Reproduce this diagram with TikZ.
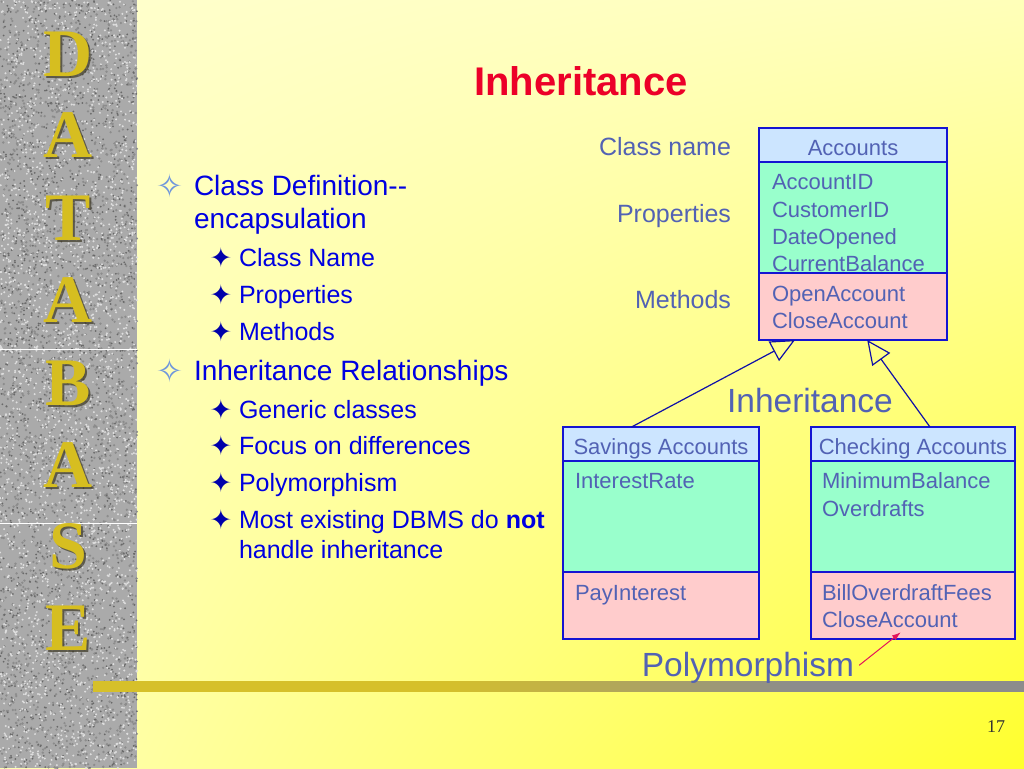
\documentclass[tikz,border=0pt]{standalone}
\usepackage{fontspec}
\usepackage{tikz}
\usetikzlibrary{positioning,arrows.meta,shadings}
\setmainfont{Liberation Sans}
\newfontfamily\letterfont{Liberation Serif}
\newfontfamily\starfont{DejaVu Sans}
\definecolor{creamtop}{RGB}{255,255,206}
\definecolor{creamright}{RGB}{255,255,185}
\definecolor{creamleft}{RGB}{255,255,180}
\definecolor{yellowlow}{RGB}{255,255,45}
\definecolor{granite}{RGB}{170,170,170}
\definecolor{granitedark}{RGB}{105,105,105}
\definecolor{granitemid}{RGB}{140,140,140}
\definecolor{granitelight}{RGB}{222,222,222}
\definecolor{goldletter}{RGB}{214,190,32}
\definecolor{goldshadow}{RGB}{60,55,35}
\definecolor{bargold}{RGB}{214,192,42}
\definecolor{bargray}{RGB}{140,140,140}
\definecolor{titlered}{RGB}{236,0,40}
\definecolor{bultext}{RGB}{0,0,225}
\definecolor{hollowstar}{RGB}{110,150,220}
\definecolor{fullstar}{RGB}{0,0,170}
\definecolor{diagtext}{RGB}{82,98,180}
\definecolor{boxline}{RGB}{20,20,210}
\definecolor{hdrblue}{RGB}{204,229,255}
\definecolor{propgreen}{RGB}{153,255,204}
\definecolor{methpink}{RGB}{255,204,204}
\definecolor{polyred}{RGB}{228,20,90}
\newcommand\lvlone{\fontsize{28}{34}\selectfont}
\newcommand\lvltwo{\fontsize{25}{30}\selectfont}
\newcommand\clsfont{\fontsize{22}{27}\selectfont}
\newcommand\sidefont{\fontsize{25}{30}\selectfont}
\newcommand\bigfont{\fontsize{33.5}{40}\selectfont}

\begin{document}
\begin{tikzpicture}[x=1pt,y=-1pt,
  every node/.style={inner sep=0pt,outer sep=0pt},
  letter/.style={anchor=base,text=goldletter,font=\fontsize{68}{70}\selectfont\letterfont\bfseries},
  letshadow/.style={letter,text=goldshadow,opacity=0.7},
  lvone/.style={anchor=base west,text=bultext,font=\lvlone},
  lvtwo/.style={anchor=base west,text=bultext,font=\lvltwo},
  dotone/.style={text=hollowstar,font=\starfont\fontsize{32}{32}\selectfont},
  dottwo/.style={text=fullstar,font=\starfont\fontsize{27}{27}\selectfont},
  sidelabel/.style={anchor=base east,text=diagtext,font=\sidefont},
  chead/.style={draw=boxline,line width=1.5pt,fill=hdrblue,anchor=north west,
    minimum height=34pt,text height=20pt,text depth=0pt,text=diagtext,font=\clsfont},
  cprop/.style={draw=boxline,line width=1.5pt,fill=propgreen,minimum height=111pt},
  cmeth/.style={draw=boxline,line width=1.5pt,fill=methpink,minimum height=67pt},
  member/.style={anchor=base west,text=diagtext,font=\clsfont},
  inherit/.style={draw=boxline!80!black,line width=1.2pt,-{Triangle[open,length=24pt,width=22pt]}},
  pointer/.style={draw=polyred,line width=1pt,-{Latex[length=9pt,width=6pt]}}]
\useasboundingbox (0,0) rectangle (1024,768);
% background
\shade[upper left=creamtop,upper right=creamright,lower left=creamleft,lower right=yellowlow] (0,0) rectangle (1024,768);
% granite strip
\fill[granite] (0,0) rectangle (137,768);
\pgfmathsetseed{17}
\foreach \i in {1,...,2200} {\fill[granitemid] (rnd*137,rnd*768) circle (1.3);}
\foreach \i in {1,...,1600} {\fill[granitedark] (rnd*137,rnd*768) circle (1.0);}
\foreach \i in {1,...,2600} {\fill[granitelight] (rnd*137,rnd*768) circle (1.1);}
\draw[white,line width=1pt] (0,349) -- (137,349) (0,523) -- (137,523);
\foreach \ch/\yb [count=\k] in {D/76,A/157,T/240,A/322,B/405,A/487,S/568,E/650} {
  \node[letshadow] (ls\k) at (70,\yb+2) {\ch};
  \node[letter] (l\k) at (68,\yb) {\ch};
}
% bar
\fill[bargold] (93,681) rectangle (440,692);
\foreach \i in {0,...,35} {
  \pgfmathtruncatemacro\mix{\i*100/35}
  \fill[bargray!\mix!bargold] (440+\i*10,681) rectangle (451+\i*10,692);
}
\fill[bargray] (800,681) rectangle (1024,692);
% title
\node[anchor=base,text=titlered,font=\fontsize{40}{48}\selectfont\bfseries] (title) at (581,95) {Inheritance};
% bullets
\node[dotone] (st1) at (170,186) {✧};
\node[lvone] (top1) at (194,195) {Class Definition-\kern0pt-};
\node[lvone] (top1b) at (194,228) {encapsulation};
\node[dotone] (st2) at (170,371) {✧};
\node[lvone] (top2) at (194,380) {Inheritance Relationships};
\foreach \txt/\yb [count=\k] in {Class Name/266,Properties/303,Methods/340,Generic classes/418,
    Focus on differences/454,Polymorphism/491,{Most existing DBMS do \textbf{not}}/528} {
  \node[dottwo] (sb\k) at (221,\yb-8) {✦};
  \node[lvtwo] (sub\k) at (239,\yb) {\txt};
}
\node[lvtwo] (sub8) at (239,558) {handle inheritance};
% labels
\node[sidelabel] (lblname) at (731,155) {Class name};
\node[sidelabel] (lblprop) at (731,222) {Properties};
\node[sidelabel] (lblmeth) at (731,308) {Methods};
% Accounts
\node[chead,minimum width=188pt] (acchead) at (759,128) {Accounts};
\node[cprop,minimum width=188pt,below=0pt of acchead] (accprop) {};
\foreach \txt/\yb [count=\k] in {AccountID/189,CustomerID/217,DateOpened/244,CurrentBalance/271}
  \node[member] (accp\k) at (772,\yb) {\txt};
\node[cmeth,minimum width=188pt,below=0pt of accprop] (accmeth) {};
\node[member] (accm1) at (772,301) {OpenAccount};
\node[member] (accm2) at (772,328) {CloseAccount};
% Savings Accounts
\node[chead,minimum width=196pt] (savhead) at (563,427) {Savings Accounts};
\node[cprop,minimum width=196pt,below=0pt of savhead] (savprop) {};
\node[member] (savp1) at (575,488) {InterestRate};
\node[cmeth,minimum width=196pt,below=0pt of savprop] (savmeth) {};
\node[member] (savm1) at (575,600) {PayInterest};
% Checking Accounts
\node[chead,minimum width=204pt] (chkhead) at (811,427) {Checking Accounts};
\node[cprop,minimum width=204pt,below=0pt of chkhead] (chkprop) {};
\node[member] (chkp1) at (822,488) {MinimumBalance};
\node[member] (chkp2) at (822,516) {Overdrafts};
\node[cmeth,minimum width=204pt,below=0pt of chkprop] (chkmeth) {};
\node[member] (chkm1) at (822,600) {BillOverdraftFees};
\node[member] (chkm2) at (822,627) {CloseAccount};
% inheritance
\draw[inherit] (savhead.150) -- (accmeth.210);
\draw[inherit] (chkhead.45) -- (accmeth.293);
\node[anchor=base,text=diagtext,font=\bigfont] (inh) at (810,412) {Inheritance};
% polymorphism
\node[anchor=base,text=diagtext,font=\bigfont] (poly) at (748,676) {Polymorphism};
\draw[pointer] ([xshift=5pt,yshift=2pt]poly.east) -- ([xshift=11pt,yshift=-5pt]chkm2.south);
% page number
\node[anchor=base,text=black!80,font=\letterfont\fontsize{18}{20}\selectfont] (pagenum) at (996,732) {17};
\end{tikzpicture}
\end{document}
